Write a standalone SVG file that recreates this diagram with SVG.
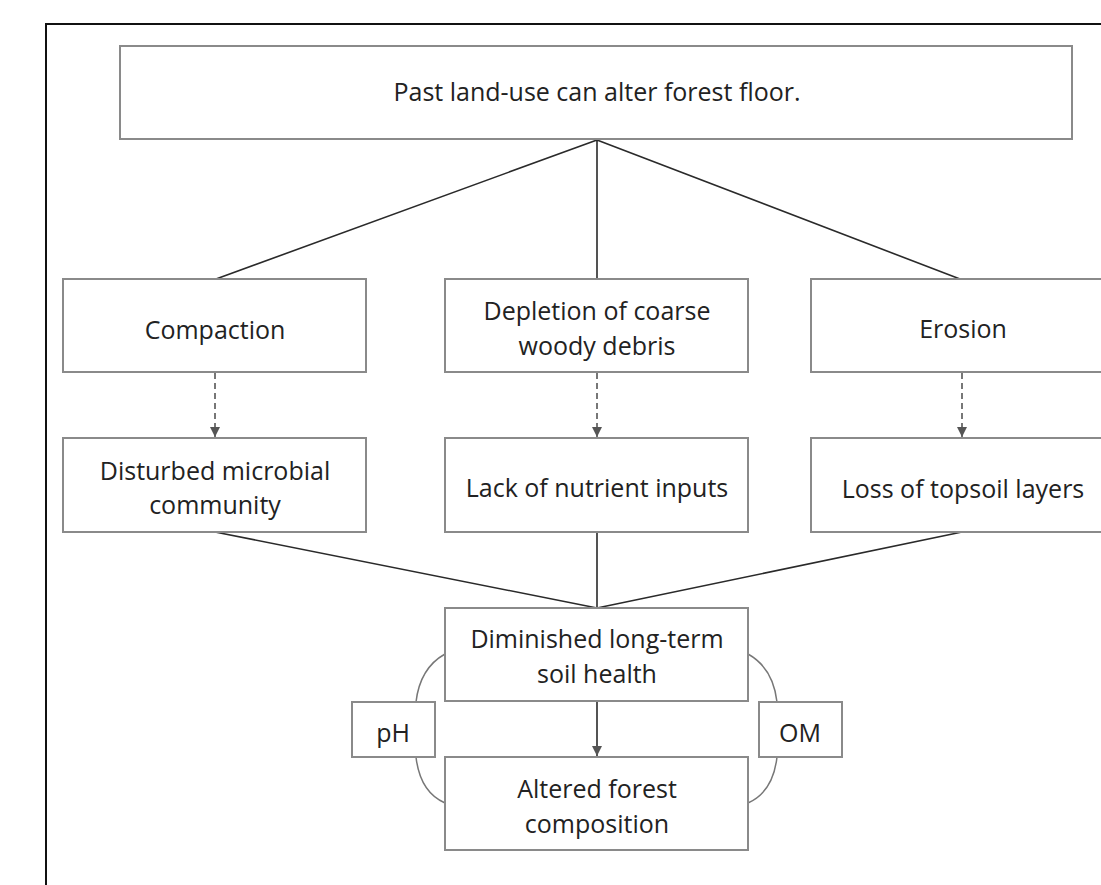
<svg xmlns="http://www.w3.org/2000/svg" width="1101" height="885" viewBox="0 0 1101 885">
<defs>
<style>
.box{fill:#fff;stroke:#8a8a8a;stroke-width:2}
.t{font-family:"Open Sans","Noto Sans",sans-serif;font-size:25px;fill:#222;text-anchor:middle}
.ln{stroke:#2a2a2a;stroke-width:1.6;fill:none}
.dash{stroke:#777;stroke-width:2;stroke-dasharray:6,4;fill:none}
.cv{stroke:#777;stroke-width:1.5;fill:none}
</style>
<marker id="ah" viewBox="0 0 10 10" refX="10" refY="5" markerWidth="10" markerHeight="10" markerUnits="userSpaceOnUse" orient="auto">
<path d="M0,0 L10,5 L0,10 z" fill="#555"/>
</marker>
</defs>
<rect width="1101" height="885" fill="#fff"/>
<path d="M46,885 V24 H1101" fill="none" stroke="#111" stroke-width="2"/>

<g id="connectors">
<path class="ln" d="M597,140 L216,279 M597,140 V279 M597,140 L960,279"/>
<path class="dash" d="M215,373 V437" marker-end="url(#ah)"/>
<path class="dash" d="M597,373 V437" marker-end="url(#ah)"/>
<path class="dash" d="M962,373 V437" marker-end="url(#ah)"/>
<path class="ln" d="M215,532 L597,608 M597,532 V608 M962,532 L597,608"/>
<path class="ln" stroke="#555" d="M597,701 V756" marker-end="url(#ah)"/>
<path class="cv" d="M445,654 Q420,668 416,702 M416,757 Q420,792 445,803"/>
<path class="cv" d="M748,654 Q773,668 777,702 M777,757 Q773,792 748,803"/>
</g>

<g id="n-top"><rect class="box" x="120" y="46" width="952" height="93"/><text class="t" x="597" y="101">Past land-use can alter forest floor.</text></g>
<g id="n-compaction"><rect class="box" x="63" y="279" width="303" height="93"/><text class="t" x="215" y="339">Compaction</text></g>
<g id="n-depletion"><rect class="box" x="445" y="279" width="303" height="93"/><text class="t" x="597" y="320">Depletion of coarse</text><text class="t" x="597" y="355">woody debris</text></g>
<g id="n-erosion"><rect class="box" x="811" y="279" width="305" height="93"/><text class="t" x="963" y="338">Erosion</text></g>
<g id="n-disturbed"><rect class="box" x="63" y="438" width="303" height="94"/><text class="t" x="215" y="480">Disturbed microbial</text><text class="t" x="215" y="514">community</text></g>
<g id="n-lack"><rect class="box" x="445" y="438" width="303" height="94"/><text class="t" x="597" y="497">Lack of nutrient inputs</text></g>
<g id="n-loss"><rect class="box" x="811" y="438" width="305" height="94"/><text class="t" x="963" y="498">Loss of topsoil layers</text></g>
<g id="n-diminished"><rect class="box" x="445" y="608" width="303" height="93"/><text class="t" x="597" y="648">Diminished long-term</text><text class="t" x="597" y="683">soil health</text></g>
<g id="n-altered"><rect class="box" x="445" y="757" width="303" height="93"/><text class="t" x="597" y="798">Altered forest</text><text class="t" x="597" y="833">composition</text></g>
<g id="n-ph"><rect class="box" x="352" y="702" width="83" height="55"/><text class="t" x="393" y="742">pH</text></g>
<g id="n-om"><rect class="box" x="759" y="702" width="83" height="55"/><text class="t" x="800" y="742">OM</text></g>
</svg>
